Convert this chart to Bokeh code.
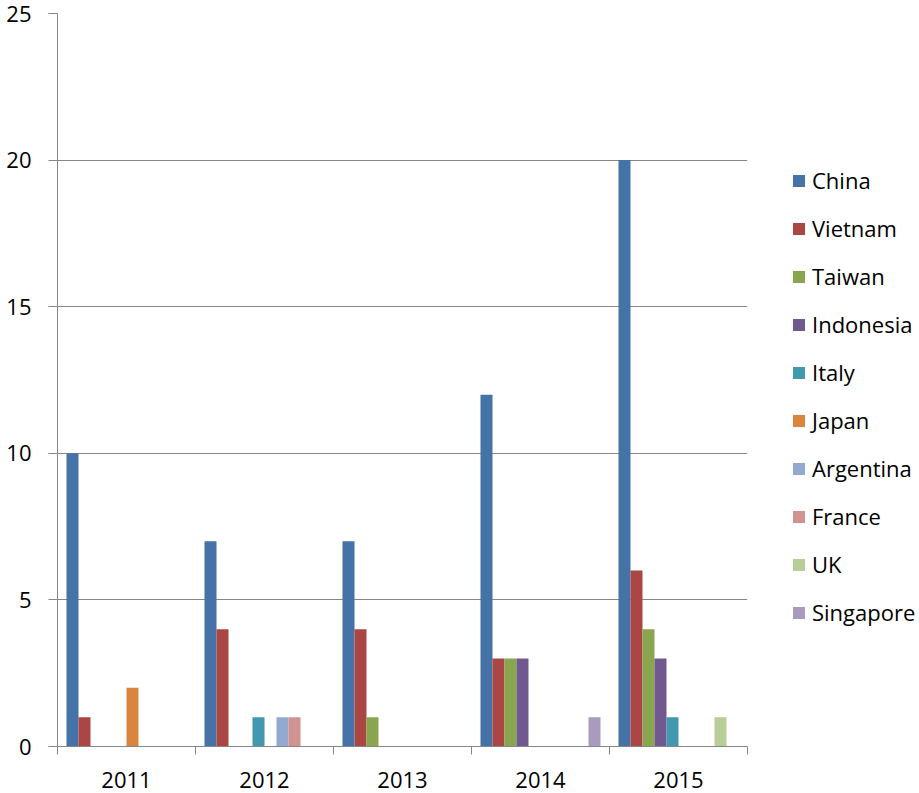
from bokeh.plotting import figure
from bokeh.models import ColumnDataSource, FixedTicker, Legend, LegendItem
from bokeh.transform import dodge
from bokeh.embed import file_html
from bokeh.resources import INLINE

years = ["2011", "2012", "2013", "2014", "2015"]
countries = ["China", "Vietnam", "Taiwan", "Indonesia", "Italy", "Japan",
             "Argentina", "France", "UK", "Singapore"]
china = [10, 7, 7, 12, 20]
vietnam = [1, 4, 4, 3, 6]
taiwan = [0, 0, 1, 3, 4]
indonesia = [0, 0, 0, 3, 3]
italy = [0, 1, 0, 0, 1]
japan = [2, 0, 0, 0, 0]
argentina = [0, 1, 0, 0, 0]
france = [0, 1, 0, 0, 0]
uk = [0, 0, 0, 0, 1]
singapore = [0, 0, 0, 1, 0]
series = [china, vietnam, taiwan, indonesia, italy, japan, argentina, france, uk, singapore]
colors = ["#4572A7", "#AA4643", "#89A54E", "#71588F", "#4198AF", "#DB843D",
          "#93A9CF", "#D19392", "#B9CD96", "#A99BBD"]
y_ticks = [0, 5, 10, 15, 20, 25]

FONT = "Open Sans"
GRID = "#868686"

data = {"x": [i + 0.5 for i in range(len(years))]}
for c, s in zip(countries, series):
    data[c] = s
src = ColumnDataSource(data)

p = figure(frame_width=690, frame_height=733, output_backend="svg", toolbar_location=None,
           x_range=(0, len(years)), y_range=(0, 25),
           min_border_left=57, min_border_right=172, min_border_top=13, min_border_bottom=47)
p.outline_line_color = None
p.background_fill_color = "white"
p.border_fill_color = "white"

bw = 12.0 / 138.0
n = len(countries)
items = []
for i, (c, col) in enumerate(zip(countries, colors)):
    off = (i - (n - 1) / 2) * bw
    r = p.vbar(x=dodge("x", off), top=c, width=bw, source=src,
               fill_color=col, line_color=None)
    items.append(LegendItem(label=c, renderers=[r]))

# axes
p.xaxis.ticker = FixedTicker(ticks=data["x"], minor_ticks=list(range(len(years) + 1)))
p.xaxis.major_label_overrides = {x: y for x, y in zip(data["x"], years)}
p.xaxis.major_tick_line_color = None
p.xaxis.major_tick_out = 8
p.xaxis.minor_tick_out = 8
p.xaxis.minor_tick_in = 0
p.xaxis.minor_tick_line_color = GRID
p.xaxis.axis_line_color = GRID
p.xaxis.major_label_standoff = 17

p.yaxis.ticker = FixedTicker(ticks=y_ticks)
p.yaxis.minor_tick_line_color = None
p.yaxis.major_tick_out = 9
p.yaxis.major_tick_in = 0
p.yaxis.major_tick_line_color = GRID
p.yaxis.axis_line_color = GRID
p.yaxis.major_label_standoff = 17
p.yaxis.major_label_text_line_height = 1.0

for ax in (p.xaxis, p.yaxis):
    ax.major_label_text_font = FONT
    ax.major_label_text_font_size = "22px"
    ax.major_label_text_color = "black"

p.xgrid.grid_line_color = None
p.ygrid.grid_line_color = GRID
p.ygrid.grid_line_width = 1

legend = Legend(items=items, location=(44, 119), orientation="vertical")
legend.glyph_width = 15
legend.glyph_height = 15
legend.label_standoff = 6
legend.spacing = 18
legend.padding = 0
legend.margin = 0
legend.border_line_color = None
legend.background_fill_alpha = 0
legend.label_text_font = FONT
legend.label_text_font_size = "22px"
legend.label_text_color = "black"
legend.label_height = 30
p.add_layout(legend, "right")

open("out.html", "w").write(file_html(p, INLINE))
